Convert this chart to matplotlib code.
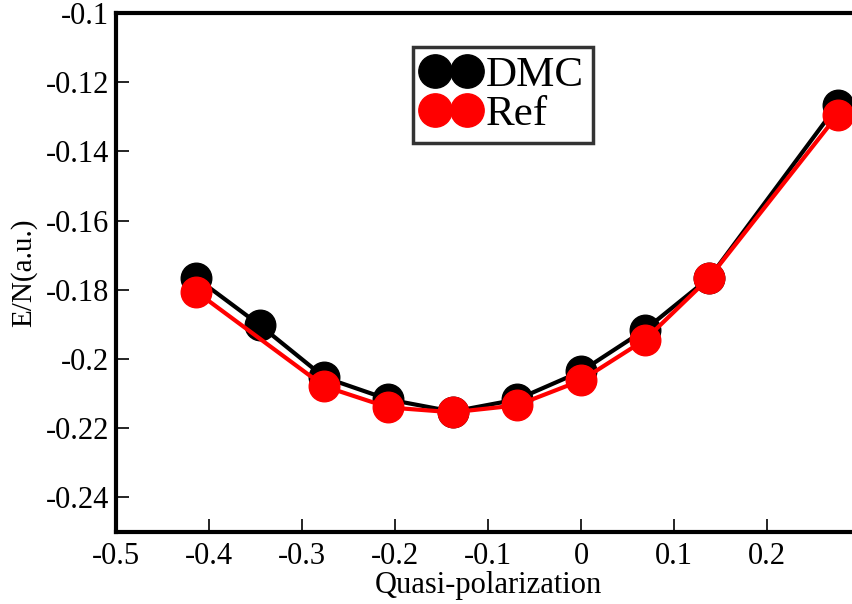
import matplotlib
matplotlib.use("Agg")
import matplotlib.pyplot as plt
from matplotlib.lines import Line2D

plt.rcParams['font.family'] = ['Liberation Serif', 'DejaVu Serif']

x_dmc = [-0.414, -0.345, -0.276, -0.207, -0.138, -0.069, 0.0, 0.069, 0.138, 0.276]
y_dmc = [-0.1765, -0.1903, -0.2053, -0.2117, -0.2152, -0.2117, -0.2036, -0.1915, -0.1765, -0.1265]
x_ref = [-0.414, -0.276, -0.207, -0.138, -0.069, 0.0, 0.069, 0.138, 0.276]
y_ref = [-0.1805, -0.2079, -0.2140, -0.2154, -0.2134, -0.2062, -0.1944, -0.1765, -0.1294]

xticks = [-0.5, -0.4, -0.3, -0.2, -0.1, 0, 0.1, 0.2]
xticklabels = ['-0.5', '-0.4', '-0.3', '-0.2', '-0.1', '0', '0.1', '0.2']
yticks = [-0.24, -0.22, -0.2, -0.18, -0.16, -0.14, -0.12, -0.1]
yticklabels = ['-0.24', '-0.22', '-0.2', '-0.18', '-0.16', '-0.14', '-0.12', '-0.1']

fig = plt.figure(figsize=(8.52, 6.04), dpi=100)
ax = fig.add_axes([116/852, 1-532/604, 744/852, 519/604])

ms = 22
ax.plot(x_dmc, y_dmc, color='black', lw=3, marker='o', ms=ms, mec='black', zorder=2)
ax.plot(x_ref, y_ref, color='red', lw=3, marker='o', ms=ms, mec='red', zorder=3)

ax.set_xlim(-0.5, 0.3)
ax.set_ylim(-0.25, -0.1)
ax.set_xticks(xticks)
ax.set_xticklabels(xticklabels)
ax.set_yticks(yticks)
ax.set_yticklabels(yticklabels)
ax.tick_params(direction='in', length=9.5, width=1.2, labelsize=22, pad=5)
ax.tick_params(axis='x', pad=7)
for s in ax.spines.values():
    s.set_linewidth(3)

ax.set_xlabel('Quasi-polarization', fontsize=22, labelpad=0)
ax.set_ylabel('E/N(a.u.)', fontsize=21, labelpad=6)

handles = [Line2D([], [], ls='none', marker='o', ms=24, color='black', mec='black'),
           Line2D([], [], ls='none', marker='o', ms=24, color='red', mec='red')]
leg = fig.legend(handles, ['DMC', 'Ref'], loc='upper left',
                 bbox_to_anchor=(413/852, 1-47/604), numpoints=2,
                 fontsize=31, frameon=True, fancybox=False, handlelength=1.35,
                 handletextpad=0.15, labelspacing=0.0, borderpad=0.2, borderaxespad=0)
leg.get_frame().set_edgecolor('black')
leg.get_frame().set_linewidth(2.5)

fig.savefig('out.png', dpi=100)
